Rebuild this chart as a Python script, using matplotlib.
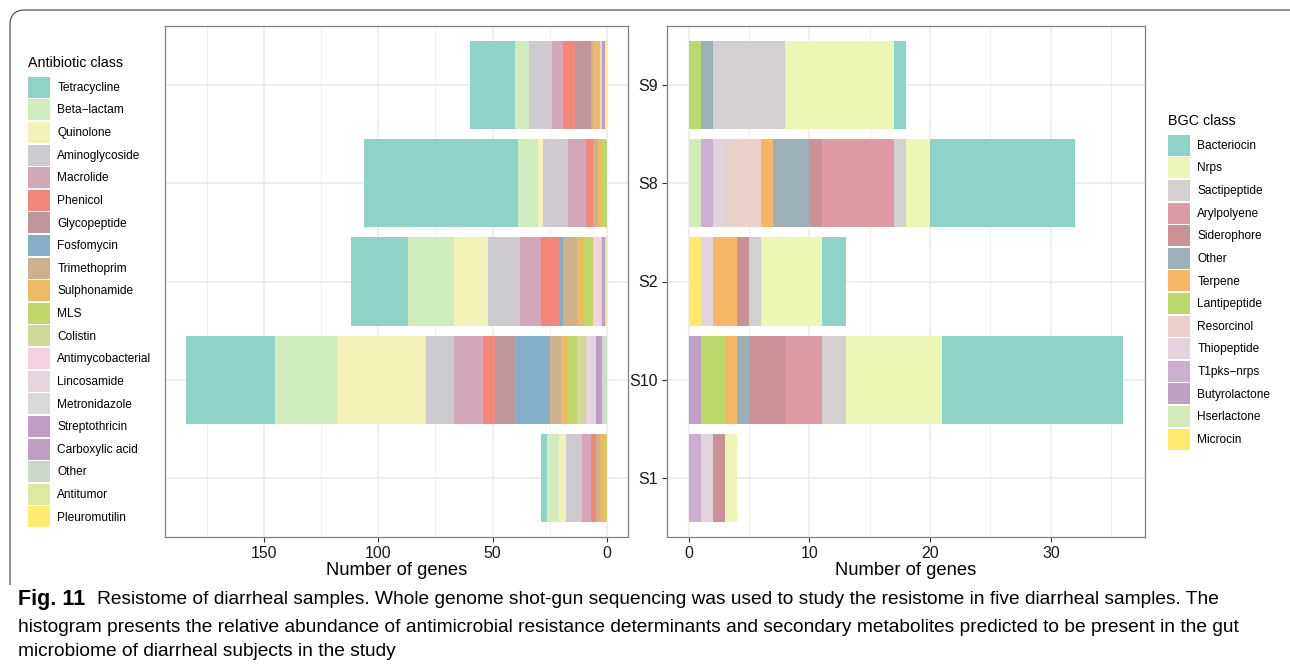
import matplotlib
matplotlib.use("Agg")
import matplotlib.pyplot as plt
import numpy as np
from matplotlib.patches import Patch
from matplotlib.path import Path
from matplotlib.patches import PathPatch

plt.rcParams['font.family'] = ['Liberation Sans', 'DejaVu Sans']

# ---------------- data ----------------
samples = ["S1", "S10", "S2", "S8", "S9"]          # bottom -> top

amr_classes = ["Tetracycline", "Beta\u2212lactam", "Quinolone", "Aminoglycoside", "Macrolide",
               "Phenicol", "Glycopeptide", "Fosfomycin", "Trimethoprim", "Sulphonamide",
               "MLS", "Colistin", "Antimycobacterial", "Lincosamide", "Metronidazole",
               "Streptothricin", "Carboxylic acid", "Other", "Antitumor", "Pleuromutilin"]
amr_colors = ["#8DD3C7", "#D0ECBD", "#F3F3B9", "#CDCBCF", "#D3A6BA",
              "#F4877A", "#C0969D", "#84AFCB", "#CDB08C", "#EDBA63",
              "#C0D669", "#D0D898", "#F6D0E1", "#E6D4DE", "#D9D9D9",
              "#C39BC8", "#BFA0C3", "#C9DAC8", "#DDE8A2", "#FFED6F"]
amr_S1  = [3, 5, 3, 7, 4, 2, 0, 0, 2, 2, 1, 0, 0, 0, 0, 0, 0, 0, 0, 0]
amr_S10 = [39, 27, 39, 12, 13, 5, 9, 15, 5, 3, 4, 4, 0, 2, 2, 3, 0, 2, 0, 0]
amr_S2  = [25, 20, 15, 14, 9, 8, 0, 2, 6, 3, 4, 0, 3, 0, 1, 1, 0, 0, 1, 0]
amr_S8  = [67, 9, 2, 11, 8, 3, 0, 0, 2, 2, 2, 0, 0, 0, 0, 0, 0, 0, 0, 0]
amr_S9  = [20, 6, 0, 10, 5, 5, 7, 0, 1, 3, 0, 0, 0, 0, 1, 1, 0, 0, 0, 1]

bgc_classes = ["Bacteriocin", "Nrps", "Sactipeptide", "Arylpolyene", "Siderophore", "Other",
               "Terpene", "Lantipeptide", "Resorcinol", "Thiopeptide", "T1pks\u2212nrps",
               "Butyrolactone", "Hserlactone", "Microcin"]
bgc_colors = ["#8DD3C7", "#EDF7B5", "#D4D0D0", "#DE9BA5", "#CA9196", "#9DB0B8",
              "#F6B666", "#BADA6C", "#EAD0C8", "#E3D3DC", "#CAB0CE",
              "#C0A0C4", "#D3EAB9", "#FFE96A"]
bgc_S1  = [0, 1, 0, 0, 1, 0, 0, 0, 0, 1, 1, 0, 0, 0]
bgc_S10 = [15, 8, 2, 3, 3, 1, 1, 2, 0, 0, 0, 1, 0, 0]
bgc_S2  = [2, 5, 1, 0, 1, 0, 2, 0, 0, 1, 0, 0, 0, 1]
bgc_S8  = [12, 2, 1, 6, 1, 3, 1, 0, 3, 1, 1, 0, 1, 0]
bgc_S9  = [1, 9, 6, 0, 0, 1, 0, 1, 0, 0, 0, 0, 0, 0]

amr = np.array([amr_S1, amr_S10, amr_S2, amr_S8, amr_S9]).T   # classes x samples
bgc = np.array([bgc_S1, bgc_S10, bgc_S2, bgc_S8, bgc_S9]).T

caption_l1 = "Resistome of diarrheal samples. Whole genome shot-gun sequencing was used to study the resistome in five diarrheal samples. The"
caption_l2 = "histogram presents the relative abundance of antimicrobial resistance determinants and secondary metabolites predicted to be present in the gut"
caption_l3 = "microbiome of diarrheal subjects in the study"

# ---------------- figure ----------------
W, H = 1290, 668
fig = plt.figure(figsize=(W / 100, H / 100), dpi=100)

def ax_rect(x0, x1, y0, y1):
    return [x0 / W, 1 - y1 / H, (x1 - x0) / W, (y1 - y0) / H]

axL = fig.add_axes(ax_rect(165, 628, 26, 537))
axR = fig.add_axes(ax_rect(667, 1145, 26, 537))

ypos = np.arange(1, len(samples) + 1)

def stacked(ax, data, colors):
    left = np.zeros(data.shape[1])
    # stack from the last class outwards, so the first class is farthest
    for i in range(data.shape[0] - 1, -1, -1):
        ax.barh(ypos, data[i], left=left, height=0.9, color=colors[i],
                edgecolor='none', linewidth=0, zorder=3)
        left = left + data[i]

stacked(axL, amr, amr_colors)
stacked(axR, bgc, bgc_colors)

totL = amr.sum(axis=0).max()
totR = bgc.sum(axis=0).max()
axL.set_xlim(totL * 1.05, -totL * 0.05)
axR.set_xlim(-totR * 0.05, totR * 1.05)

for ax, major, minor in [(axL, [0, 50, 100, 150], [25, 75, 125, 175]),
                         (axR, [0, 10, 20, 30], [5, 15, 25, 35])]:
    ax.set_ylim(0.4, len(samples) + 0.6)
    ax.set_xticks(major)
    ax.set_xticks(minor, minor=True)
    ax.set_yticks(ypos)
    ax.grid(True, which='major', color='#EBEBEB', linewidth=1.1, zorder=0)
    ax.grid(True, which='minor', axis='x', color='#EBEBEB', linewidth=0.55, zorder=0)
    ax.set_axisbelow(True)
    for s in ax.spines.values():
        s.set_color('#7F7F7F')
        s.set_linewidth(0.9)
    ax.tick_params(axis='x', which='major', length=3.5, color='#333333', width=0.8,
                   labelsize=11.4, labelcolor='#1A1A1A', pad=3)
    ax.tick_params(axis='x', which='minor', length=0)
    ax.set_xlabel("Number of genes", fontsize=13.2, color='black', labelpad=1)

axL.tick_params(axis='y', length=0, labelleft=False)
axR.set_yticklabels(samples)
axR.tick_params(axis='y', length=3.5, color='#333333', width=0.8, labelsize=11.5,
                labelcolor='#1A1A1A', pad=3)

# ---------------- legends ----------------
leg_kw = dict(loc='upper left', frameon=False, fontsize=8.6, title_fontsize=10.3,
              handlelength=1.84, handleheight=2.33, labelspacing=0.134, handletextpad=0.62,
              borderpad=0, borderaxespad=0, alignment='left')
hL = [Patch(facecolor=c, edgecolor='none') for c in amr_colors]
legL = fig.legend(hL, amr_classes, bbox_to_anchor=(28 / W, 1 - 56 / H),
                  title="Antibiotic class", **leg_kw)
hR = [Patch(facecolor=c, edgecolor='none') for c in bgc_colors]
legR = fig.legend(hR, bgc_classes, bbox_to_anchor=(1168 / W, 1 - 114 / H),
                  title="BGC class", **leg_kw)
for lg in (legL, legR):
    lg._legend_box.sep = 4.8

# ---------------- frame ----------------
r = 15
verts = [(10, 585), (10, 10 + r), (10, 10), (10 + r, 10), (W + 5, 10)]
codes = [Path.MOVETO, Path.LINETO, Path.CURVE3, Path.CURVE3, Path.LINETO]
verts_fig = [(x / W, 1 - y / H) for x, y in verts]
frame = PathPatch(Path(verts_fig, codes), transform=fig.transFigure, fill=False,
                  edgecolor='#555555', linewidth=0.9)
fig.patches.append(frame)

# ---------------- caption ----------------
cap_fs = 13.8
fig.text(18 / W, 1 - 600 / H, "Fig. 11", fontsize=15.5, fontweight='bold', va='center')
fig.text(97 / W, 1 - 600 / H, caption_l1, fontsize=cap_fs, va='center')
fig.text(18 / W, 1 - 627 / H, caption_l2, fontsize=cap_fs, va='center')
fig.text(18 / W, 1 - 652 / H, caption_l3, fontsize=cap_fs, va='center')

fig.savefig("out.png", dpi=100)
